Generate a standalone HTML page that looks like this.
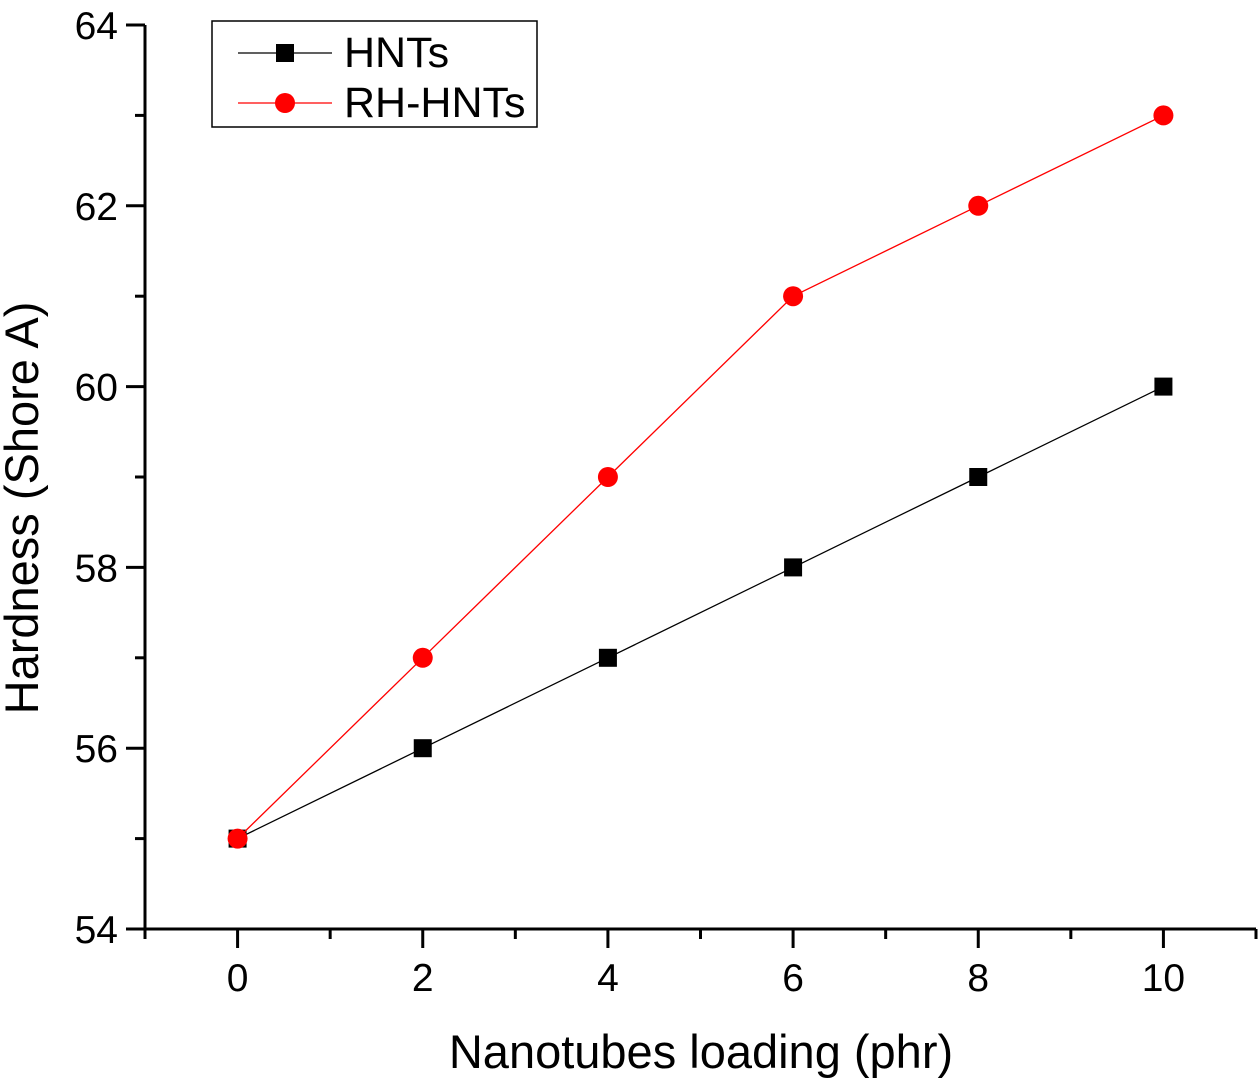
<!DOCTYPE html>
<html><head><meta charset="utf-8"><style>
html,body{margin:0;padding:0;background:#fff;}
svg{display:block;font-family:"Liberation Sans",Arial,sans-serif;}
</style></head><body>
<svg id="chart" width="1260" height="1086" viewBox="0 0 1260 1086"></svg>
<script>
const categories = [0, 2, 4, 6, 8, 10];
const hntsValues = [55, 56, 57, 58, 59, 60];
const rhHntsValues = [55, 57, 59, 61, 62, 63];
const xTickLabels = ["0", "2", "4", "6", "8", "10"];
const yTickLabels = ["54", "56", "58", "60", "62", "64"];

const NS = "http://www.w3.org/2000/svg";
const svg = document.getElementById("chart");
const X0 = 145, X1 = 1256, XMIN = -1, XMAX = 11;
const Y0 = 929, Y1 = 25, YMIN = 54, YMAX = 64;
function xs(v){ return X0 + (v - XMIN) / (XMAX - XMIN) * (X1 - X0); }
function ys(v){ return Y0 - (v - YMIN) / (YMAX - YMIN) * (Y0 - Y1); }
function mk(tag, attrs, parent){
  const e = document.createElementNS(NS, tag);
  for (const k in attrs) e.setAttribute(k, attrs[k]);
  (parent || svg).appendChild(e);
  return e;
}

const yAxis = mk("line", {x1:X0, y1:Y1, x2:X0, y2:Y0+1.5, stroke:"#000", "stroke-width":3});


const xAxis = mk("line", {x1:X0-1.5, y1:Y0, x2:X1, y2:Y0, stroke:"#000", "stroke-width":3});



for (let v = XMIN; v <= XMAX; v++) {
  const major = v % 2 === 0;
  const t = mk("line", {x1:xs(v), y1:Y0, x2:xs(v), y2:Y0 + (major ? 19 : 10), stroke:"#000", "stroke-width":3});
  
  
}
xTickLabels.forEach((lab, i) => {
  const t = mk("text", {x:xs(categories[i]), y:991, "font-size":39, "text-anchor":"middle", fill:"#000"});
  t.textContent = lab;
  
  
});
for (let v = YMIN; v <= YMAX; v++) {
  const major = v % 2 === 0;
  const t = mk("line", {x1:X0, y1:ys(v), x2:X0 - (major ? 19 : 10), y2:ys(v), stroke:"#000", "stroke-width":3});
  
  
}
yTickLabels.forEach((lab) => {
  const t = mk("text", {x:118, y:ys(+lab) + 14, "font-size":39, "text-anchor":"end", fill:"#000"});
  t.textContent = lab;
  
  
});

const xt = mk("text", {x:701, y:1068, "font-size":47, "text-anchor":"middle", fill:"#000"});
xt.textContent = "Nanotubes loading (phr)";


const yt = mk("text", {x:0, y:0, "font-size":47, "text-anchor":"middle", fill:"#000", transform:"translate(38,508) rotate(-90)"});
yt.textContent = "Hardness (Shore A)";



function drawSeries(vals, color, shape, name){
  const g = mk("g", {});
  
  
  const pts = vals.map((v, i) => xs(categories[i]) + "," + ys(v)).join(" ");
  const pl = mk("polyline", {points:pts, fill:"none", stroke:color, "stroke-width":1.3}, g);
  
  
  vals.forEach((v, i) => {
    const cx = xs(categories[i]), cy = ys(v);
    let m;
    if (shape === "square") m = mk("rect", {x:cx-9, y:cy-9, width:18, height:18, fill:color}, g);
    else m = mk("circle", {cx:cx, cy:cy, r:10, fill:color}, g);
    
    
  });
}
drawSeries(hntsValues, "#000", "square", "hnts");
drawSeries(rhHntsValues, "#ff0000", "circle", "rh-hnts");

const lg = mk("g", {});


mk("rect", {x:212, y:21, width:325, height:106, fill:"#fff", stroke:"#000", "stroke-width":1.5}, lg);
const e1 = mk("g", {}, lg);


mk("line", {x1:238, y1:53, x2:332, y2:53, stroke:"#000", "stroke-width":1.3}, e1);
mk("rect", {x:276, y:44, width:18, height:18, fill:"#000"}, e1);
const l1 = mk("text", {x:344, y:67, "font-size":43, fill:"#000"}, e1);
l1.textContent = "HNTs";
const e2 = mk("g", {}, lg);


mk("line", {x1:238, y1:103, x2:332, y2:103, stroke:"#ff0000", "stroke-width":1.3}, e2);
mk("circle", {cx:285, cy:103, r:10, fill:"#ff0000"}, e2);
const l2 = mk("text", {x:344, y:117, "font-size":43, fill:"#000"}, e2);
l2.textContent = "RH-HNTs";
</script>
</body></html>
